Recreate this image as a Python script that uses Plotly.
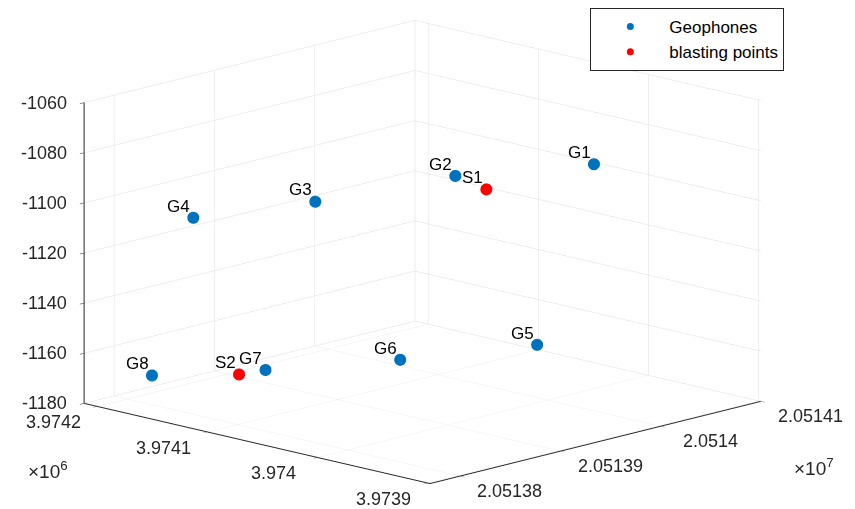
import plotly.graph_objects as go

# ---- data ----
geo_names = ["G1", "G2", "G3", "G4", "G5", "G6", "G7", "G8"]
geo_x = [20514096, 20514005, 20513884, 20513792, 20514058, 20513961, 20513875, 20513809]
geo_y = [3974046, 3974089, 3974106, 3974133, 3974063, 3974099, 3974143, 3974186]
geo_z = [-1100, -1100, -1100, -1100, -1170, -1170, -1170, -1170]

blast_names = ["S1", "S2"]
blast_x = [20513992, 20513853]
blast_y = [3974049, 3974147]
blast_z = [-1100, -1170]

x_range = [20513770, 20514100]
y_range = [3973898, 3974212]
z_range = [-1180, -1060]

x_ticks = [20513800, 20513900, 20514000, 20514100]
x_ticktext = ["2.05138", "2.05139", "2.0514", "2.05141"]
y_ticks = [3973900, 3974000, 3974100, 3974200]
y_ticktext = ["3.9739", "3.974", "3.9741", "3.9742"]
z_ticks = [-1180, -1160, -1140, -1120, -1100, -1080, -1060]
z_ticktext = ["-1180", "-1160", "-1140", "-1120", "-1100", "-1080", "-1060"]

# offsets to keep WebGL precision
X0 = 20513000
Y0 = 3973000

def sx(v):
    return [a - X0 for a in v]

def sy(v):
    return [a - Y0 for a in v]

FONT = "Liberation Sans, Arial, sans-serif"
TXT = "#262626"

fig = go.Figure()
fig.add_trace(go.Scatter3d(
    x=sx(geo_x), y=sy(geo_y), z=geo_z, mode="markers",
    marker=dict(size=7, color="#0072BD", line=dict(width=0)),
    name="Geophones", hoverinfo="skip"))
fig.add_trace(go.Scatter3d(
    x=sx(blast_x), y=sy(blast_y), z=blast_z, mode="markers",
    marker=dict(size=7, color="#FF0000", line=dict(width=0)),
    name="blasting points", hoverinfo="skip"))

def axis(rng, tv):
    return dict(
        range=rng, autorange=False, tickvals=tv,
        showticklabels=False,
        showgrid=True, gridcolor="#DEDEDE", gridwidth=1,
        showline=True, linecolor=TXT, linewidth=2,
        ticks="outside", ticklen=6, tickcolor=TXT,
        showbackground=False, zeroline=False, showspikes=False,
        title=dict(text=""),
    )

ann = []
tick_font = dict(family=FONT, size=18, color=TXT)
# z tick labels on the left vertical edge (x = xmin, y = ymax)
for v, t in zip(z_ticks, z_ticktext):
    ann.append(dict(x=x_range[0] - X0, y=y_range[1] - Y0, z=v, text=t, showarrow=False,
                    xanchor="right", yanchor="middle", xshift=-15, font=tick_font))
# y tick labels along the front-left edge (x = xmin, z = zmin)
for v, t in zip(y_ticks, y_ticktext):
    ann.append(dict(x=x_range[0] - X0, y=v - Y0, z=z_range[0], text=t, showarrow=False,
                    xanchor="center", yanchor="middle", xshift=-44, yshift=-16, font=tick_font))
# x tick labels along the front-right edge (y = ymin, z = zmin)
for v, t in zip(x_ticks, x_ticktext):
    ann.append(dict(x=v - X0, y=y_range[0] - Y0, z=z_range[0], text=t, showarrow=False,
                    xanchor="center", yanchor="middle", xshift=50, yshift=-15, font=tick_font))
# point labels
lab_font = dict(family=FONT, size=17, color="#000000")
for n, a, b, c in zip(geo_names + blast_names, geo_x + blast_x, geo_y + blast_y, geo_z + blast_z):
    ann.append(dict(x=a - X0, y=b - Y0, z=c, text=n, showarrow=False,
                    xanchor="right", yanchor="bottom", xshift=-1, yshift=0, font=lab_font))

s = 1.89
# view shift (scene units): move the picture left and up a little
dh = 0.0318
dv = 0.0328
cx, cy, cz = 0.6947 * dh, -0.7193 * dh, -dv
fig.update_layout(
    width=855, height=509,
    margin=dict(l=0, r=0, t=0, b=0),
    paper_bgcolor="white",
    font=dict(family=FONT, color=TXT),
    scene=dict(
        domain=dict(x=[0, 0.988], y=[0.01, 1]),
        xaxis=axis(sx(x_range), sx(x_ticks)),
        yaxis=axis(sy(y_range), sy(y_ticks)),
        zaxis=axis(z_range, z_ticks),
        aspectmode="manual",
        aspectratio=dict(x=1 * s, y=1.0097 * s, z=0.6505 * s),
        camera=dict(
            projection=dict(type="orthographic"),
            eye=dict(x=-0.6983 * 2 + cx, y=-0.6744 * 2 + cy, z=0.2400 * 2 + cz),
            center=dict(x=cx, y=cy, z=cz),
            up=dict(x=0, y=0, z=1),
        ),
        annotations=ann,
    ),
    legend=dict(
        x=0.908, y=1.0, xanchor="right", yanchor="top",
        bgcolor="white", bordercolor="#262626", borderwidth=1,
        font=dict(family=FONT, size=17, color="#000000"),
        itemwidth=68,
    ),
    annotations=[
        dict(text="\u00d710<sup>6</sup>", x=40 / 855, y=1 - 462 / 509, xref="paper", yref="paper",
             xanchor="center", yanchor="middle",
             showarrow=False, font=dict(family=FONT, size=19, color=TXT)),
        dict(text="\u00d710<sup>7</sup>", x=806 / 855, y=1 - 459 / 509, xref="paper", yref="paper",
             xanchor="center", yanchor="middle",
             showarrow=False, font=dict(family=FONT, size=19, color=TXT)),
    ],
)

fig.write_html("out.html")
